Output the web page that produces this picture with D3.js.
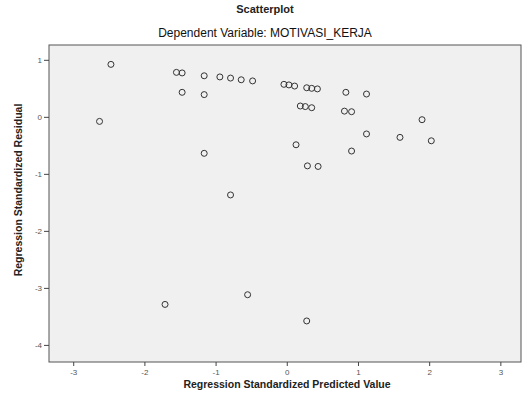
<!DOCTYPE html>
<html>
<head>
<meta charset="utf-8">
<script src="https://cdn.jsdelivr.net/npm/d3@7"></script>
<style>
  body { margin: 0; background: #fff; }
  text { font-family: Arial, "Liberation Sans", sans-serif; }
</style>
</head>
<body>
<div id="chart"></div>
<script>
// standardized predicted value (x) and standardized residual (y)
var predicted = [-2.47, -1.55, -1.47, -1.16, -0.94, -0.79, -0.64, -0.48, -1.47, -1.16,
                 -2.63, -1.16, -0.79, -0.04, 0.03, 0.11, 0.28, 0.35, 0.43, 0.83,
                 1.12, 0.19, 0.26, 0.35, 0.81, 0.91, 1.90, 1.12, 1.59, 2.03,
                 0.13, 0.91, 0.29, 0.44, -0.55, -1.71, 0.28];
var residual  = [0.92, 0.78, 0.77, 0.72, 0.70, 0.68, 0.65, 0.63, 0.43, 0.39,
                 -0.08, -0.64, -1.37, 0.57, 0.56, 0.54, 0.51, 0.50, 0.49, 0.43,
                 0.40, 0.19, 0.18, 0.16, 0.10, 0.09, -0.05, -0.30, -0.36, -0.42,
                 -0.49, -0.60, -0.86, -0.87, -3.12, -3.29, -3.58];
var xTicks = [-3, -2, -1, 0, 1, 2, 3];
var yTicks = [1, 0, -1, -2, -3, -4];

var svg = d3.select("#chart").append("svg").attr("width", 526).attr("height", 405),
    margin = {top: 45, right: 5, bottom: 43, left: 49},
    width = +svg.attr("width") - margin.left - margin.right,
    height = +svg.attr("height") - margin.top - margin.bottom;

var x = d3.scaleLinear().domain([-3.34, 3.29]).range([0, width]);
var y = d3.scaleLinear().domain([-4.3, 1.26]).range([height, 0]);

svg.append("text").attr("x", 265).attr("y", 13).attr("text-anchor", "middle")
    .style("font-size", "11px").style("font-weight", "bold").attr("fill", "#222")
    .text("Scatterplot");
svg.append("text").attr("x", 265).attr("y", 37).attr("text-anchor", "middle")
    .style("font-size", "12px").attr("fill", "#111")
    .text("Dependent Variable: MOTIVASI_KERJA");

var g = svg.append("g")
    .attr("transform", "translate(" + margin.left + "," + margin.top + ")");

g.append("rect").attr("width", width).attr("height", height)
    .attr("fill", "#f0f0f0").attr("stroke", "#555").attr("stroke-width", 1);

var fmt = function(d) { return String(d); };
var xAxis = g.append("g")
    .attr("transform", "translate(0," + height + ")")
    .call(d3.axisBottom(x).tickValues(xTicks).tickFormat(fmt).tickSize(4).tickPadding(3));
var yAxis = g.append("g")
    .call(d3.axisLeft(y).tickValues(yTicks).tickFormat(fmt).tickSize(5).tickPadding(2));

[xAxis, yAxis].forEach(function(a) {
    a.select(".domain").remove();
    a.selectAll("line").attr("stroke", "#444");
    a.selectAll("text").style("font-size", "8px").attr("fill", "#555");
});

g.selectAll(".dot")
    .data(predicted)
    .enter().append("circle")
    .attr("class", "dot")
    .attr("cx", function(d) { return x(d); })
    .attr("cy", function(d, i) { return y(residual[i]); })
    .attr("r", 3)
    .attr("fill", "none")
    .attr("stroke", "#333")
    .attr("stroke-width", 1);

svg.append("text").attr("x", 287).attr("y", 388).attr("text-anchor", "middle")
    .style("font-size", "10.5px").style("font-weight", "bold").attr("fill", "#222")
    .text("Regression Standardized Predicted Value");
svg.append("text").attr("transform", "translate(22,190) rotate(-90)").attr("text-anchor", "middle")
    .style("font-size", "10.5px").style("font-weight", "bold").attr("fill", "#222")
    .text("Regression Standardized Residual");
</script>
</body>
</html>
